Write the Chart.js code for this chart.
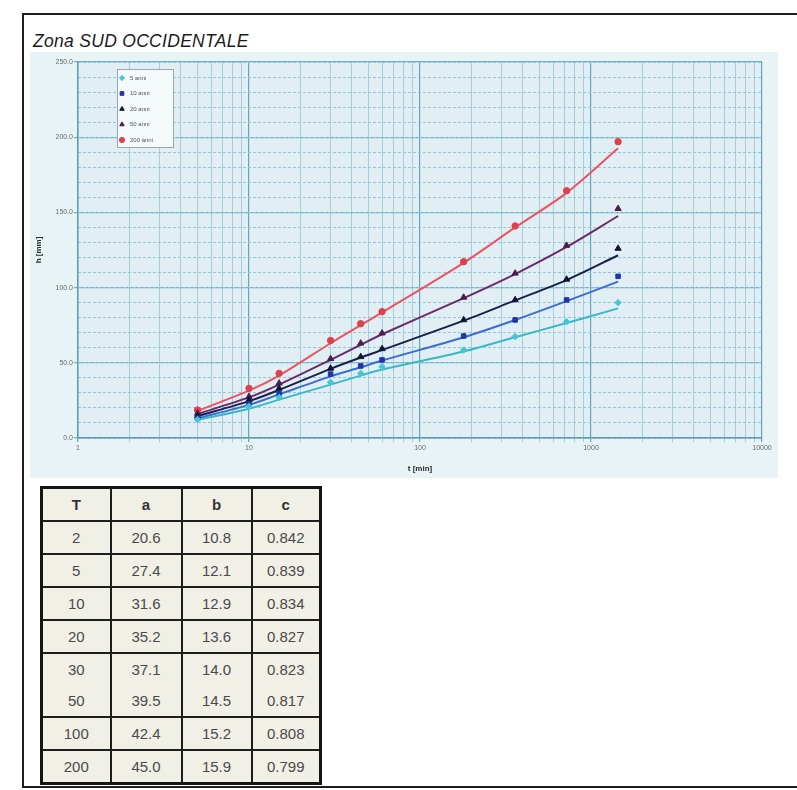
<!DOCTYPE html>
<html>
<head>
<meta charset="utf-8">
<script src="https://cdn.jsdelivr.net/npm/chart.js@4.4.1/dist/chart.umd.min.js"></script>
<style>
  html, body { margin: 0; padding: 0; background: #fff; }
  body { width: 797px; height: 790px; position: relative; overflow: hidden; font-family: 'Liberation Sans', Arial, sans-serif; }
  .frame { position: absolute; left: 22px; top: 13px; width: 800px; height: 771px; border: 2px solid #1e1e1e; }
  .title { position: absolute; left: 33px; top: 31px; font-size: 17.5px; font-style: italic; color: #1c1c1c; letter-spacing: 0.3px; }
  .chart-box { position: absolute; left: 30px; top: 52px; width: 748px; height: 426px; background: #e8f3f6; }
  table.params { position: absolute; left: 40px; top: 486px; width: 279px; height: 298px; border-collapse: collapse; table-layout: fixed; background: #f1f0e7; border: 3px solid #151515; color: #4a4a4a; font-size: 15px; }
  table.params td, table.params th { border-left: 2px solid #1d1d1d; border-right: 2px solid #1d1d1d; border-top: 2px solid #1d1d1d; text-align: center; padding: 0; }
  table.params th { font-weight: bold; height: 31px; color: #333; }
  table.params td { height: 31px; }
  table.params tr.nosep td { border-top: none; }
</style>
</head>
<body>
<div class="frame"></div>
<div class="title">Zona SUD OCCIDENTALE</div>
<div class="chart-box"><canvas id="chart" width="748" height="426"></canvas></div>
<table class="params" id="params"></table>

<script>
// durations t [min]
const durations = [5, 10, 15, 30, 45, 60, 180, 360, 720, 1440];

// observed h [mm] (markers)
const obs5 = [12.3, 21.0, 27.0, 37.0, 43.0, 47.4, 58.5, 67.4, 77.3, 90.0];
const obs10 = [13.1, 22.6, 29.7, 42.5, 47.9, 51.9, 67.8, 78.5, 91.8, 107.5];
const obs20 = [14.6, 25.3, 33.0, 46.3, 54.0, 59.3, 78.5, 91.8, 105.5, 126.0];
const obs50 = [16.4, 27.5, 36.4, 52.7, 63.0, 69.7, 93.5, 109.5, 128.0, 152.5];
const obs200 = [18.6, 33.0, 43.0, 64.8, 76.0, 84.0, 117.2, 141.0, 164.4, 197.0];

// fitted curves h [mm]
const fit5 = [12.0, 19.5, 25.5, 35.5, 41.5, 45.5, 57.5, 67.0, 76.5, 86.2];
const fit10 = [13.0, 22.0, 29.0, 41.0, 47.0, 51.5, 67.0, 78.5, 91.0, 104.0];
const fit20 = [14.5, 24.5, 32.0, 46.0, 53.5, 58.5, 78.0, 91.5, 105.0, 121.5];
const fit50 = [16.0, 27.0, 35.5, 52.0, 62.0, 69.0, 93.0, 109.0, 127.0, 147.6];
const fit200 = [18.0, 31.5, 41.5, 63.0, 75.0, 83.5, 116.5, 140.0, 163.0, 192.6];

const seriesLabels = ['5 anni', '10 anni', '20 anni', '50 anni', '200 anni'];
const seriesObs = [obs5, obs10, obs20, obs50, obs200];
const seriesFit = [fit5, fit10, fit20, fit50, fit200];
const markerColors = ['#45c6d6', '#1f35a8', '#121535', '#4a1d4e', '#e0404e'];
const lineColors = ['#3ab8c8', '#3c6cd4', '#18204a', '#6e2a68', '#ea5462'];
const markerStyles = ['rectRot', 'rect', 'triangle', 'triangle', 'circle'];

const yTicks = [0, 50, 100, 150, 200, 250];
const xTicks = [1, 10, 100, 1000, 10000];

// table
const tableHead = ['T', 'a', 'b', 'c'];
const colT = ['2', '5', '10', '20', '30', '50', '100', '200'];
const colA = ['20.6', '27.4', '31.6', '35.2', '37.1', '39.5', '42.4', '45.0'];
const colB = ['10.8', '12.1', '12.9', '13.6', '14.0', '14.5', '15.2', '15.9'];
const colC = ['0.842', '0.839', '0.834', '0.827', '0.823', '0.817', '0.808', '0.799'];

// build table
const tbl = document.getElementById('params');
let html = '<colgroup><col style="width:69px"><col style="width:71px"><col style="width:70px"><col style="width:69px"></colgroup>';
html += '<tr>' + tableHead.map(h => '<th>' + h + '</th>').join('') + '</tr>';
colT.forEach((t, i) => {
    const cls = t === '50' ? ' class="nosep"' : '';
    html += '<tr' + cls + '><td>' + t + '</td><td>' + colA[i] + '</td><td>' + colB[i] + '</td><td>' + colC[i] + '</td></tr>';
});
tbl.innerHTML = html;

const toPts = arr => durations.map((t, i) => ({ x: t, y: arr[i] }));

const datasets = [];
seriesLabels.forEach((name, i) => {
    datasets.push({
        label: name + ' fit',
        data: toPts(seriesFit[i]),
        borderColor: lineColors[i],
        borderWidth: 2,
        pointRadius: 0,
        tension: 0.3,
        fill: false,
        order: 1
    });
    datasets.push({
        label: name,
        data: toPts(seriesObs[i]),
        showLine: false,
        pointStyle: markerStyles[i],
        pointRadius: markerStyles[i] === 'triangle' ? 3.6 : 3.2,
        pointBackgroundColor: markerColors[i],
        pointBorderColor: markerColors[i],
        borderColor: markerColors[i],
        backgroundColor: markerColors[i],
        order: 0,
        isMarker: true
    });
});

const isDecade = v => Math.abs(Math.log10(v) - Math.round(Math.log10(v))) < 1e-9;

// plot area background
const plotBg = {
    id: 'plotBg',
    beforeDraw(chart) {
        const a = chart.chartArea, ctx = chart.ctx;
        ctx.save();
        ctx.fillStyle = '#e1eff4';
        ctx.fillRect(a.left, a.top, a.right - a.left, a.bottom - a.top);
        ctx.restore();
    }
};

// legend box drawn inside the plot, top-left
const boxLegend = {
    id: 'boxLegend',
    afterDatasetsDraw(chart) {
        const a = chart.chartArea, ctx = chart.ctx;
        const x0 = a.left + 39, y0 = a.top + 7, w = 56, h = 78;
        ctx.save();
        ctx.fillStyle = '#f4f9fa';
        ctx.strokeStyle = '#9aa6b0';
        ctx.lineWidth = 1;
        ctx.fillRect(x0, y0, w, h);
        ctx.strokeRect(x0 + 0.5, y0 + 0.5, w, h);
        ctx.font = '6px "Liberation Sans", Arial, sans-serif';
        ctx.textBaseline = 'middle';
        const markers = chart.data.datasets.filter(d => d.isMarker);
        markers.forEach((d, i) => {
            const yy = y0 + 9 + i * 15.5;
            ctx.fillStyle = d.pointBackgroundColor;
            ctx.strokeStyle = d.pointBorderColor;
            if (Chart.helpers && Chart.helpers.drawPoint) {
                Chart.helpers.drawPoint(ctx, { pointStyle: d.pointStyle, radius: 2.6, rotation: 0, borderWidth: 1 }, x0 + 5, yy);
            } else {
                ctx.fillRect(x0 + 3, yy - 2, 4, 4);
            }
            ctx.fillStyle = '#555';
            ctx.fillText(d.label, x0 + 13, yy);
        });
        ctx.restore();
    }
};

new Chart(document.getElementById('chart'), {
    type: 'line',
    data: { datasets },
    options: {
        responsive: false,
        animation: false,
        layout: { padding: { left: 4, right: 16, top: 10, bottom: 0 } },
        plugins: {
            legend: { display: false },
            tooltip: { enabled: false }
        },
        scales: {
            x: {
                type: 'logarithmic',
                min: 1,
                max: 10000,
                afterBuildTicks(scale) {
                    const t = [];
                    for (let d = 1; d < 10000; d *= 10) {
                        for (let k = 1; k < 10; k++) t.push({ value: d * k });
                    }
                    t.push({ value: 10000 });
                    scale.ticks = t;
                },
                afterFit(scale) { scale.height = 40; },
                ticks: {
                    autoSkip: false,
                    maxRotation: 0,
                    padding: 2,
                    color: '#6a6a6a',
                    font: { size: 7, family: 'Liberation Sans, Arial, sans-serif' },
                    callback: v => (xTicks.includes(v) ? String(v) : '')
                },
                grid: {
                    color: c => (c.tick && isDecade(c.tick.value) ? '#5fa7bf' : '#a3cedc'),
                    lineWidth: c => (c.tick && isDecade(c.tick.value) ? 1.2 : 1),
                    tickLength: 4
                },
                border: { color: '#5b9db5', width: 1.5 },
                title: {
                    display: true,
                    text: 't [min]',
                    color: '#2a2a2a',
                    font: { size: 8, weight: 'bold', family: 'Liberation Sans, Arial, sans-serif' },
                    padding: { top: 2, bottom: 4 }
                }
            },
            y: {
                min: 0,
                max: 250,
                afterBuildTicks(scale) { scale.ticks = yTicks.map(v => ({ value: v })); },
                afterFit(scale) { scale.width = 44; },
                ticks: {
                    padding: 1,
                    color: '#6a6a6a',
                    font: { size: 7, family: 'Liberation Sans, Arial, sans-serif' },
                    callback: v => Number(v).toFixed(1)
                },
                grid: { color: '#6fb0c6', lineWidth: 1.2, tickLength: 4 },
                border: { color: '#5b9db5', width: 1.5 },
                title: {
                    display: true,
                    text: 'h [mm]',
                    color: '#2a2a2a',
                    font: { size: 8, weight: 'bold', family: 'Liberation Sans, Arial, sans-serif' },
                    padding: { top: 0, bottom: 0 }
                }
            },
            yMinor: {
                position: 'left',
                min: 0,
                max: 250,
                afterFit(scale) { scale.width = 0; },
                ticks: { display: false, stepSize: 10 },
                grid: { color: '#94c6d6', lineWidth: 1, drawTicks: false },
                border: { display: false, dash: [3, 2] }
            }
        }
    },
    plugins: [plotBg, boxLegend]
});
</script>
</body>
</html>
